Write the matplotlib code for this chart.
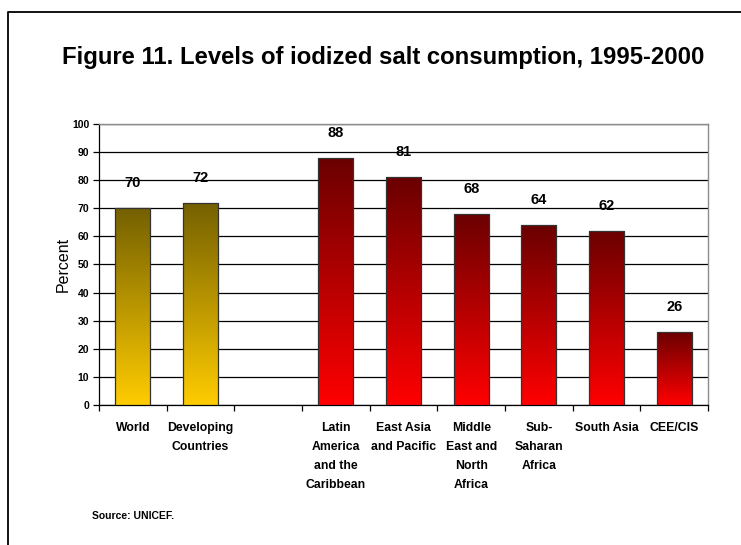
import numpy as np
import matplotlib
matplotlib.use("Agg")
import matplotlib.pyplot as plt
from matplotlib.colors import LinearSegmentedColormap
from matplotlib.lines import Line2D

plt.rcParams["font.family"] = ["Liberation Sans", "DejaVu Sans"]

TITLE = "Figure 11. Levels of iodized salt consumption, 1995-2000"
CATEGORIES = ["World", "Developing\nCountries", "",
              "Latin\nAmerica\nand the\nCaribbean", "East Asia\nand Pacific",
              "Middle\nEast and\nNorth\nAfrica", "Sub-\nSaharan\nAfrica",
              "South Asia", "CEE/CIS"]
VALUES = [70, 72, np.nan, 88, 81, 68, 64, 62, 26]
GROUPS = ["global", "global", None, "region", "region", "region", "region", "region", "region"]

GOLD = LinearSegmentedColormap.from_list("gold", ["#FFCC00", "#746000"])
RED  = LinearSegmentedColormap.from_list("red", ["#FF0000", "#6A0000"])
BAR_W = 0.52


fig = plt.figure(figsize=(7.41, 5.45), dpi=100)
ax = fig.add_axes([0.1336, 0.2569, 0.8219, 0.5156])

grad = np.linspace(0, 1, 256).reshape(-1, 1)
for i, (v, g) in enumerate(zip(VALUES, GROUPS)):
    if g is None:
        continue
    x0 = i + 0.5 - BAR_W / 2
    bar = ax.bar(i + 0.5, v, BAR_W, facecolor="none", edgecolor="#333333", lw=0.9, zorder=4)[0]
    im = ax.imshow(grad, cmap=GOLD if g == "global" else RED, origin="lower",
                   extent=[x0, x0 + BAR_W, 0, v], aspect="auto", zorder=3)
    im.set_clip_path(bar)
    ax.annotate(f"{v}", (i + 0.5, v), xytext=(0, 18), textcoords="offset points",
                ha="center", va="center", fontsize=10.5, fontweight="bold")

ax.set_xlim(0, 9)
ax.set_ylim(0, 100)
ax.set_yticks(range(0, 101, 10))
ax.yaxis.grid(True, color="black", lw=0.9)
ax.set_axisbelow(True)

ax.set_xticks(range(10))
ax.set_xticklabels([])
ax.set_xticks([i + 0.5 for i in range(9)], minor=True)
ax.set_xticklabels(CATEGORIES, minor=True, fontsize=8.8, fontweight="bold",
                   va="top", linespacing=1.8)
ax.tick_params(axis="x", which="major", direction="out", length=4, width=0.9)
ax.tick_params(axis="x", which="minor", length=0, pad=12)
ax.tick_params(axis="y", direction="out", length=4, width=0.9, labelsize=7.5, pad=3)
for lab in ax.get_yticklabels():
    lab.set_fontweight("bold")

ax.set_ylabel("Percent", fontsize=11.5, labelpad=1)
for s in ("top", "right"):
    ax.spines[s].set_color("#8c8c8c")
    ax.spines[s].set_linewidth(1.0)
for s in ("left", "bottom"):
    ax.spines[s].set_linewidth(0.9)

fig.text(0.517, 0.895, TITLE, ha="center", va="center", fontsize=17.2, fontweight="bold")
fig.text(0.124, 0.053, "Source: UNICEF.", ha="left", va="center", fontsize=7.5, fontweight="bold")

# outer frame (left and top edges only, as in the source)
fig.add_artist(Line2D([0.0108, 0.0108, 1.0], [0.0, 0.978, 0.978],
                      transform=fig.transFigure, color="black", lw=1.3))

fig.savefig("out.png", dpi=100)
